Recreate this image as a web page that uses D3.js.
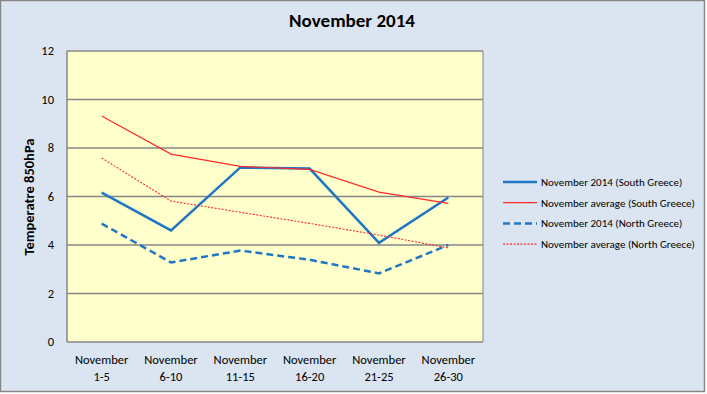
<!DOCTYPE html>
<html>
<head>
<meta charset="utf-8">
<script src="https://cdn.jsdelivr.net/npm/d3@7"></script>
<style>
  body { margin: 0; background: #fff; }
  svg text { font-family: Carlito, "Liberation Sans Narrow", "DejaVu Sans Condensed", "Open Sans", sans-serif; }
</style>
</head>
<body>
<div id="chart"></div>
<script>
const categories = ["November\n1-5", "November\n6-10", "November\n11-15", "November\n16-20", "November\n21-25", "November\n26-30"];
const south2014 = [6.16, 4.6, 7.2, 7.15, 4.09, 5.96];
const southAvg = [9.32, 7.75, 7.24, 7.12, 6.18, 5.72];
const north2014 = [4.88, 3.28, 3.77, 3.39, 2.83, 4.0];
const northAvg = [7.59, 5.81, 5.35, 4.89, 4.41, 3.88];
const yTicks = [0, 2, 4, 6, 8, 10, 12];

const series = [
    { name: "November 2014 (South Greece)", values: south2014, color: "#1F77C4", width: 2.5, dash: null },
    { name: "November average (South Greece)", values: southAvg, color: "#FF2A2A", width: 1.2, dash: null },
    { name: "November 2014 (North Greece)", values: north2014, color: "#1F77C4", width: 2.5, dash: "7,4" },
    { name: "November average (North Greece)", values: northAvg, color: "#FF2A2A", width: 1.1, dash: "2,1.5" }
];

const width = 707, height = 394;
const plot = { left: 67, right: 483, top: 51, bottom: 342 };

const svg = d3.select("#chart").append("svg")
    .attr("width", width)
    .attr("height", height);

// chart background and border
svg.append("rect")
    .attr("x", 0.5).attr("y", 0.5)
    .attr("width", width - 3).attr("height", height - 3)
    .attr("fill", "#DBE5F1")
    .attr("stroke", "#868686")
    .attr("stroke-width", 1.5);

svg.append("text")
    .attr("x", 352)
    .attr("y", 27)
    .attr("text-anchor", "middle")
    .style("font-size", "19px")
    .style("font-weight", "bold")
    .text("November 2014");

const x = d3.scaleBand()
    .domain(categories)
    .range([plot.left, plot.right]);

const y = d3.scaleLinear()
    .domain([0, 12])
    .range([plot.bottom, plot.top]);

svg.append("rect")
    .attr("x", plot.left).attr("y", plot.top)
    .attr("width", plot.right - plot.left)
    .attr("height", plot.bottom - plot.top)
    .attr("fill", "#FFFFCC");

// gridlines
svg.append("g")
    .selectAll("line")
    .data(yTicks)
    .enter().append("line")
    .attr("x1", plot.left).attr("x2", plot.right)
    .attr("y1", d => y(d)).attr("y2", d => y(d))
    .attr("stroke", "#868686")
    .attr("stroke-width", 1.5);

svg.append("line")
    .attr("x1", plot.left).attr("x2", plot.left)
    .attr("y1", plot.top).attr("y2", plot.bottom)
    .attr("stroke", "#868686")
    .attr("stroke-width", 1.5);
svg.append("line")
    .attr("x1", plot.right).attr("x2", plot.right)
    .attr("y1", plot.top).attr("y2", plot.bottom)
    .attr("stroke", "#868686")
    .attr("stroke-width", 1);

// y tick labels
svg.append("g")
    .selectAll("text")
    .data(yTicks)
    .enter().append("text")
    .attr("x", 54)
    .attr("y", d => y(d))
    .attr("dy", "0.35em")
    .attr("text-anchor", "end")
    .style("font-size", "12.5px")
    .text(d => d);

// x labels
const xl = svg.append("g")
    .selectAll("text")
    .data(categories)
    .enter().append("text")
    .attr("x", d => x(d) + x.bandwidth() / 2)
    .attr("y", 364)
    .attr("text-anchor", "middle")
    .style("font-size", "12.5px");
xl.each(function(d) {
    const parts = d.split("\n");
    d3.select(this).selectAll("tspan")
        .data(parts)
        .enter().append("tspan")
        .attr("x", x(d) + x.bandwidth() / 2)
        .attr("dy", (p, i) => i === 0 ? 0 : 17)
        .text(p => p);
});

svg.append("text")
    .attr("transform", "translate(34,197) rotate(-90)")
    .attr("text-anchor", "middle")
    .style("font-size", "14.5px")
    .style("font-weight", "bold")
    .text("Temperatre 850hPa");

const line = d3.line()
    .x((d, i) => x(categories[i]) + x.bandwidth() / 2)
    .y(d => y(d));

svg.append("g")
    .selectAll("path")
    .data(series)
    .enter().append("path")
    .attr("d", d => line(d.values))
    .attr("fill", "none")
    .attr("stroke", d => d.color)
    .attr("stroke-width", d => d.width)
    .attr("stroke-dasharray", d => d.dash);

// legend
const legend = svg.append("g")
    .selectAll("g")
    .data(series)
    .enter().append("g")
    .attr("transform", (d, i) => `translate(503,${182 + i * 20.7})`);

legend.append("line")
    .attr("x1", 0).attr("x2", 34)
    .attr("stroke", d => d.color)
    .attr("stroke-width", d => d.width)
    .attr("stroke-dasharray", d => d.dash);

legend.append("text")
    .attr("x", 38)
    .attr("dy", "0.35em")
    .style("font-size", "11px")
    .text(d => d.name);
</script>
</body>
</html>
